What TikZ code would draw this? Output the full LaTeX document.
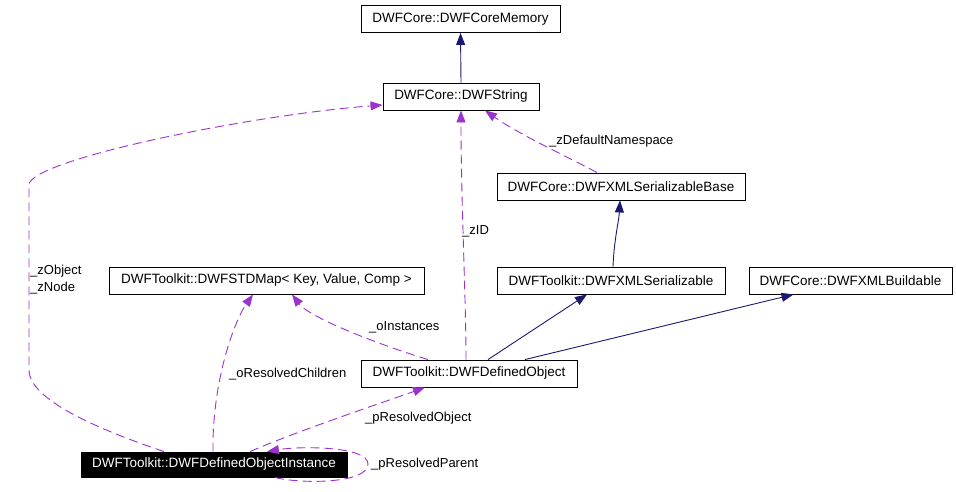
\documentclass[tikz,border=0pt]{standalone}
\usepackage{fontspec}
\setmainfont{Liberation Sans}
\usetikzlibrary{arrows.meta}
\definecolor{inhblue}{HTML}{191970}
\definecolor{usepurple}{HTML}{9A32CD}

\begin{document}
\begin{tikzpicture}[x=1pt,y=-1pt,
    classnode/.style={draw,line width=0.9pt,minimum height=27pt,inner sep=0pt,font=\fontsize{13.5}{16}\selectfont},
    inherit/.style={draw=inhblue,line width=0.9pt,-{Triangle[length=12pt,width=9pt,fill=inhblue]}},
    usage/.style={draw=usepurple,line width=0.9pt,dash pattern=on 9pt off 5pt,-{Triangle[length=12pt,width=9pt,fill=usepurple]}},
    lbl/.style={font=\fontsize{13}{17}\selectfont,inner sep=0pt,anchor=west}]
    \useasboundingbox (0,0) rectangle (956,491);
    % classes
    \node[classnode,minimum width=199pt] (mem) at (460.5,19) {DWFCore::DWFCoreMemory};
    \node[classnode,minimum width=156pt] (str) at (461,96.5) {DWFCore::DWFString};
    \node[classnode,minimum width=248pt] (xsb) at (621,186.5) {DWFCore::DWFXMLSerializableBase};
    \node[classnode,minimum width=315pt] (map) at (266.5,280.5) {DWFToolkit::DWFSTDMap< Key, Value, Comp >};
    \node[classnode,minimum width=228pt] (xs) at (611,280.5) {DWFToolkit::DWFXMLSerializable};
    \node[classnode,minimum width=203pt] (xb) at (850.5,280.5) {DWFCore::DWFXMLBuildable};
    \node[classnode,minimum width=216pt] (dobj) at (469,373.5) {DWFToolkit::DWFDefinedObject};
    \node[classnode,minimum width=266pt,minimum height=25pt,fill=black,text=white] (inst) at (214,464.5) {DWFToolkit::DWFDefinedObjectInstance};
    % inheritance
    \draw[inherit] (str.north) -- (mem.south);
    \draw[inherit] ([xshift=2pt]xs.north) .. controls (614,240) and (619,220) .. ([xshift=-1pt]xsb.south);
    \draw[inherit] ([xshift=19pt]dobj.north) -- ([xshift=-24pt]xs.south);
    \draw[inherit] ([xshift=56pt]dobj.north) -- ([xshift=-57pt]xb.south);
    % usage
    \draw[usage] ([xshift=-50pt]inst.north) .. controls (100,430) and (29,400) .. (29,370) -- (29,185) .. controls (29,160) and (250,115) .. ([yshift=-8.5pt]str.west);
    \node[lbl,align=left] (zobj) at (30,279.5) {\_zObject\\\_zNode};
    \draw[usage] ([xshift=-3pt]dobj.north) .. controls (466,300) and (461,200) .. (str.south);
    \node[lbl] (zid) at (462,231) {\_zID};
    \draw[usage] ([xshift=-24pt]xsb.north) .. controls (570,158) and (520,135) .. ([xshift=24pt]str.south);
    \node[lbl] (zdn) at (549,141) {\_zDefaultNamespace};
    \draw[usage] ([xshift=-41pt]dobj.north) .. controls (380,345) and (310,318) .. ([xshift=25.5pt]map.south);
    \node[lbl] (oinst) at (369,327.5) {\_oInstances};
    \draw[usage] ([xshift=-1pt]inst.north) .. controls (212,380) and (235,320) .. ([xshift=-13.5pt]map.south);
    \node[lbl] (orc) at (229,374) {\_oResolvedChildren};
    \draw[usage] ([xshift=36pt]inst.north) .. controls (300,430) and (390,400) .. ([xshift=-44pt]dobj.south);
    \node[lbl] (pro) at (365,418) {\_pResolvedObject};
    \draw[usage] ([xshift=61pt]inst.south) .. controls (300,484) and (368,484) .. (368,464) .. controls (368,446) and (300,446) .. ([xshift=53pt]inst.north);
    \node[lbl] (prp) at (371,464) {\_pResolvedParent};
\end{tikzpicture}
\end{document}
